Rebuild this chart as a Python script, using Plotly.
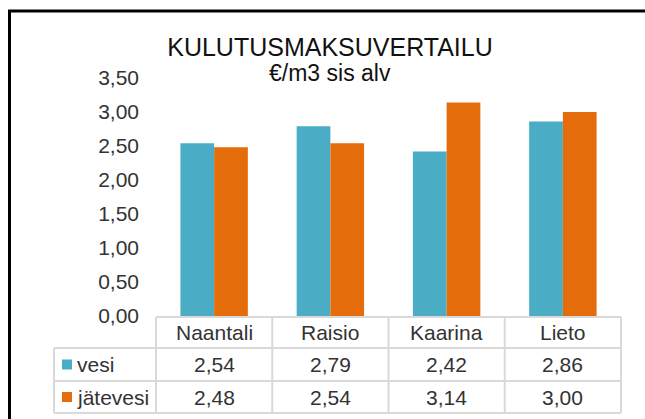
import plotly.graph_objects as go

categories = ["Naantali", "Raisio", "Kaarina", "Lieto"]
series_names = ["vesi", "jätevesi"]
vesi = [2.54, 2.79, 2.42, 2.86]
jatevesi = [2.48, 2.54, 3.14, 3.00]
colors = ["#4BACC6", "#E46C0A"]
y_ticks = [0, 0.5, 1.0, 1.5, 2.0, 2.5, 3.0, 3.5]

W, H = 645, 419
L, R, T, B = 156, 24, 78, 103
pw, ph = W - L - R, H - T - B

def px_x(px):
    return (px - L) / pw

def px_y(py):
    return (H - B - py) / ph

def fmt(v):
    return f"{v:.2f}".replace(".", ",")

font = "Liberation Sans, Arial, sans-serif"
txt = "#333333"
grid = "#D9D9D9"

fig = go.Figure()
for name, vals, c in zip(series_names, [vesi, jatevesi], colors):
    fig.add_trace(go.Bar(x=categories, y=vals, name=name, marker=dict(color=c, line=dict(width=0))))

shapes = []
annotations = []

# table geometry (pixel rows)
row_top = 317
row_lines = [348, 381, 413]
col_left_px = 54
shapes.append(dict(type="line", xref="paper", yref="paper", x0=0, x1=1,
                   y0=px_y(row_top), y1=px_y(row_top), line=dict(color=grid, width=2)))
for ry in row_lines:
    shapes.append(dict(type="line", xref="paper", yref="paper", x0=px_x(col_left_px), x1=1,
                       y0=px_y(ry), y1=px_y(ry), line=dict(color=grid, width=2)))
shapes.append(dict(type="line", xref="paper", yref="paper", x0=px_x(col_left_px), x1=px_x(col_left_px),
                   y0=px_y(row_lines[0]), y1=px_y(row_lines[-1]), line=dict(color=grid, width=2)))
n = len(categories)
for i in range(n + 1):
    xp = i / n
    shapes.append(dict(type="line", xref="paper", yref="paper", x0=xp, x1=xp,
                       y0=px_y(row_top), y1=px_y(row_lines[-1]), line=dict(color=grid, width=2)))

for i, cat in enumerate(categories):
    annotations.append(dict(x=(i + 0.5) / n, y=px_y((row_top + row_lines[0]) / 2), xref="paper", yref="paper",
                            text=cat, showarrow=False, font=dict(size=21, color=txt, family=font),
                            xanchor="center", yanchor="middle"))
rows = [vesi, jatevesi]
for r, (name, vals, c) in enumerate(zip(series_names, rows, colors)):
    cy = (row_lines[r] + row_lines[r + 1]) / 2
    for i, v in enumerate(vals):
        annotations.append(dict(x=(i + 0.5) / n, y=px_y(cy), xref="paper", yref="paper",
                                text=fmt(v), showarrow=False, font=dict(size=21, color=txt, family=font),
                                xanchor="center", yanchor="middle"))
    shapes.append(dict(type="rect", xref="paper", yref="paper", x0=px_x(62), x1=px_x(72),
                       y0=px_y(cy + 5), y1=px_y(cy - 5), fillcolor=c, line=dict(width=0)))
    annotations.append(dict(x=px_x(75), y=px_y(cy), xref="paper", yref="paper",
                            text=name, showarrow=False, font=dict(size=21, color=txt, family=font),
                            xanchor="left", yanchor="middle"))

# outer frame (left and top edges visible)
shapes.append(dict(type="line", xref="paper", yref="paper", x0=px_x(9.5), x1=px_x(9.5),
                   y0=px_y(10.5), y1=px_y(440), line=dict(color="black", width=3)))
shapes.append(dict(type="line", xref="paper", yref="paper", x0=px_x(8), x1=px_x(660),
                   y0=px_y(11), y1=px_y(11), line=dict(color="black", width=3)))

annotations.append(dict(x=px_x(330), y=px_y(73), xref="paper", yref="paper",
                        text="€/m3 sis alv", showarrow=False, font=dict(size=23, color="#111111", family=font),
                        xanchor="center", yanchor="middle"))

fig.update_layout(
    width=W, height=H,
    margin=dict(l=L, r=R, t=T, b=B, pad=0),
    paper_bgcolor="white", plot_bgcolor="white",
    separators=",.",
    showlegend=False,
    bargap=0.42, bargroupgap=0,
    barmode="group",
    title=dict(text="KULUTUSMAKSUVERTAILU", x=330 / W, xref="container", xanchor="center",
               y=1 - 47 / H, yref="container", yanchor="middle",
               font=dict(size=25, color="#111111", family=font)),
    font=dict(family=font, color=txt, size=21),
    shapes=shapes,
    annotations=annotations,
)
fig.update_xaxes(showticklabels=False, showline=False, showgrid=False, zeroline=False, ticks="")
fig.update_yaxes(range=[0, 3.5], tickvals=y_ticks, tickformat=".2f", showgrid=False, zeroline=False,
                 showline=False, ticks="", ticklabelstandoff=16,
                 tickfont=dict(size=21, color=txt, family=font))

fig.write_html("out.html", config={"displayModeBar": False})
with open("out.html", encoding="utf-8") as f:
    html = f.read()
html = html.replace("<head>", "<head><style>html,body{margin:0;padding:0;overflow:hidden;}</style>", 1)
with open("out.html", "w", encoding="utf-8") as f:
    f.write(html)
